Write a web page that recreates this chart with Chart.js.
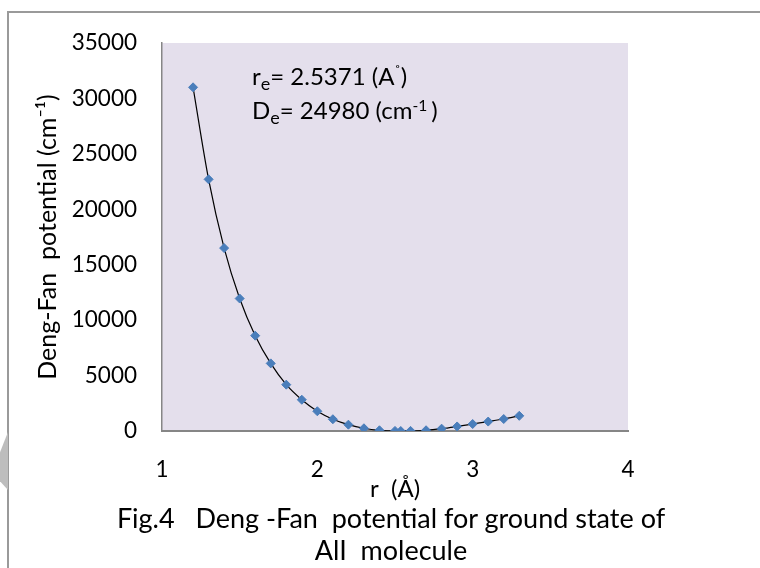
<!DOCTYPE html>
<html>
<head>
<meta charset="utf-8">
<script src="https://cdn.jsdelivr.net/npm/chart.js@4.4.0/dist/chart.umd.min.js"></script>
<style>
  body { margin: 0; background: #fff; }
  #wrap { position: relative; width: 760px; height: 568px; overflow: hidden; font-family: Lato, sans-serif; color: #000; }
  #frame { position: absolute; left: 7px; top: 11px; width: 800px; height: 600px; border-left: 2px solid #9a9a9a; border-top: 2px solid #9a9a9a; }
  #curl { position: absolute; left: 0; top: 432px; width: 8px; height: 58px; background: #bdbdbd; clip-path: polygon(100% 0, 100% 100%, 0 85%, 0 35%); }
  #chart { position: absolute; left: 0; top: 0; }
  .note { position: absolute; left: 252px; font-size: 24px; line-height: 34px; white-space: pre; }
  .sub { font-size: 0.75em; position: relative; top: 0.28em; line-height: 0; }
  .sup { font-size: 0.65em; position: relative; top: -0.5em; line-height: 0; }
  #caption { position: absolute; left: 91px; width: 600px; top: 502px; text-align: center; font-size: 27px; line-height: 32px; white-space: pre; }
</style>
</head>
<body>
<div id="wrap">
  <div id="frame"></div>
  <div id="curl"></div>
  <canvas id="chart" width="760" height="568"></canvas>
  <div class="note" style="top:59px">r<span class="sub">e</span>= 2.5371 (A<span class="sup">˚</span>)</div>
  <div class="note" style="top:93px">D<span class="sub">e</span>= 24980 (cm<span class="sup">-1 </span>)</div>
  <div id="caption">Fig.4   Deng -Fan  potential for ground state of
AlI  molecule</div>
</div>
<script>
// internuclear distance r (Angstrom) and potential (cm-1)
const rValues = [1.2, 1.3, 1.4, 1.5, 1.6, 1.7, 1.8, 1.9, 2.0, 2.1, 2.2, 2.3, 2.4, 2.5, 2.5371, 2.6, 2.7, 2.8, 2.9, 3.0, 3.1, 3.2, 3.3];
const potential = [31000, 22700, 16500, 11950, 8600, 6100, 4180, 2820, 1780, 1060, 570, 245, 65, 8, 0, 10, 65, 210, 410, 630, 850, 1080, 1370];
const xTicks = [1, 2, 3, 4];
const yTicks = [0, 5000, 10000, 15000, 20000, 25000, 30000, 35000];

const points = rValues.map((r, i) => ({x: r, y: potential[i]}));

const plotBg = {
  id: 'plotBg',
  beforeDraw(chart) {
    const a = chart.chartArea;
    const ctx = chart.ctx;
    ctx.save();
    ctx.fillStyle = '#E4DFEC';
    ctx.fillRect(a.left, a.top, a.right - a.left, a.bottom - a.top);
    ctx.restore();
  }
};

const tickFont = {family: 'Lato', size: 22.5};
const titleFont = {family: 'Lato', size: 25};

new Chart(document.getElementById('chart'), {
  type: 'scatter',
  data: {
    datasets: [{
      data: points,
      showLine: true,
      cubicInterpolationMode: 'monotone',
      borderColor: '#000',
      borderWidth: 1.2,
      pointStyle: 'rectRot',
      pointRadius: 4.5,
      pointBorderWidth: 1,
      pointBackgroundColor: '#4A7EBB',
      pointBorderColor: '#4A7EBB'
    }]
  },
  options: {
    responsive: false,
    devicePixelRatio: 1,
    animation: false,
    layout: {padding: {left: 31, right: 132, top: 43, bottom: 64}},
    plugins: {legend: {display: false}, tooltip: {enabled: false}},
    scales: {
      x: {
        type: 'linear',
        min: 1,
        max: 4,
        afterBuildTicks: s => { s.ticks = xTicks.map(v => ({value: v})); },
        afterFit: s => { s.height = 73; },
        grid: {display: false, drawTicks: false},
        border: {display: true, color: '#868686', width: 2},
        ticks: {padding: 25, color: '#000', font: tickFont, callback: v => String(v)},
        title: {display: true, text: 'r  (Å)', color: '#000', font: {family: 'Lato', size: 24}, padding: 0}
      },
      y: {
        min: 0,
        max: 35000,
        afterBuildTicks: s => { s.ticks = yTicks.map(v => ({value: v})); },
        afterFit: s => { s.width = 131; },
        grid: {display: false, drawTicks: false},
        border: {display: true, color: '#868686', width: 1.5},
        ticks: {padding: 25, color: '#000', font: tickFont, callback: v => String(v)},
        title: {display: true, text: 'Deng-Fan  potential (cm⁻¹)', color: '#000', font: titleFont, padding: {top: 2, bottom: 0}}
      }
    }
  },
  plugins: [plotBg]
});
</script>
</body>
</html>
